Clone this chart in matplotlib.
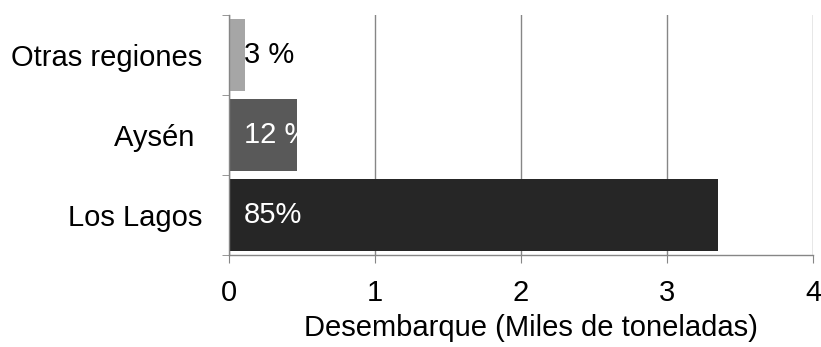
import matplotlib
matplotlib.use("Agg")
import matplotlib.pyplot as plt
from matplotlib.ticker import FixedLocator

plt.rcParams['font.family'] = ['Liberation Sans', 'DejaVu Sans']

# regions, bottom to top
regiones = ["Los Lagos", "Aysén ", "Otras regiones"]
desembarque = [3.35, 0.47, 0.11]          # miles de toneladas
etiquetas = ["85%", "12 %", "3 %"]
colores = ["#262626", "#595959", "#a6a6a6"]
colores_texto = ["white", "white", "black"]
xticks = [0, 1, 2, 3, 4]

gris = "#868686"
fs = 21

fig = plt.figure(figsize=(8.21, 3.47), dpi=100)
ax = fig.add_axes([0.2786, 0.2651, 0.7117, 0.6917])

pos = list(range(len(regiones)))
ax.barh(pos, desembarque, height=0.91, color=colores, zorder=2)

for p, txt, c in zip(pos, etiquetas, colores_texto):
    ax.annotate(txt, xy=(0, p), xytext=(11, 0), textcoords="offset points",
                ha="left", va="center", fontsize=fs, color=c, zorder=3)

ax.set_xlim(0, 4)
ax.set_ylim(-0.5, 2.5)
ax.set_xticks(xticks)
ax.set_yticks(pos)
ax.set_yticklabels(regiones)
ax.yaxis.set_minor_locator(FixedLocator([-0.5, 0.5, 1.5, 2.5]))

ax.grid(axis="x", color=gris, linewidth=1, zorder=0)
for s in ["top", "right"]:
    ax.spines[s].set_visible(False)
for s in ["left", "bottom"]:
    ax.spines[s].set_color(gris)
    ax.spines[s].set_linewidth(1)

ax.tick_params(axis="x", length=6, color=gris, pad=11, labelsize=fs)
ax.tick_params(axis="y", which="major", length=0, pad=19, labelsize=fs)
ax.tick_params(axis="y", which="minor", length=5, color=gris)

ax.set_xlabel("Desembarque (Miles de toneladas)", fontsize=fs, labelpad=4)
ax.xaxis.set_label_coords(0.517, -0.245)

fig.savefig("out.png", dpi=100)
